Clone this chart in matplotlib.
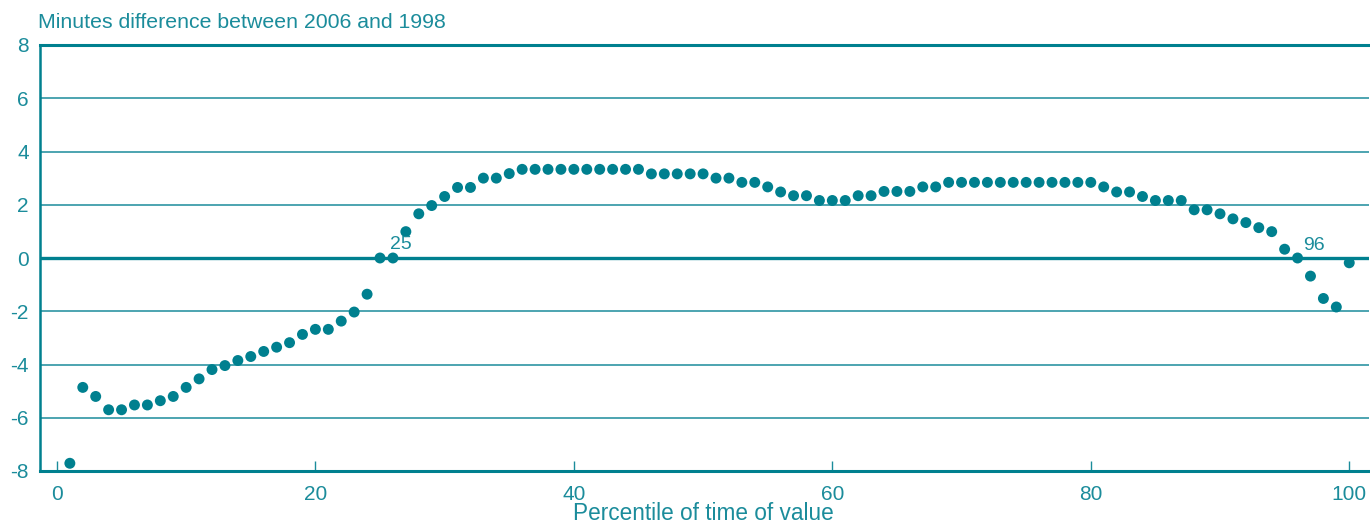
import matplotlib
matplotlib.use("Agg")
import matplotlib.pyplot as plt

plt.rcParams['font.family'] = ['Liberation Sans', 'DejaVu Sans']
plt.rcParams['axes.unicode_minus'] = False

# Percentile of time of value (1..100) and minutes difference 2006 vs 1998
percentiles = list(range(1, 101))
minutes_diff = [
    -7.71, -4.86, -5.20, -5.70, -5.70, -5.52, -5.52, -5.36, -5.20, -4.86,
    -4.54, -4.19, -4.04, -3.85, -3.70, -3.51, -3.35, -3.18, -2.87, -2.68,
    -2.68, -2.37, -2.03, -1.36, 0.00, 0.00, 0.99, 1.66, 1.97, 2.31,
    2.65, 2.65, 3.00, 3.00, 3.17, 3.33, 3.33, 3.33, 3.33, 3.33,
    3.33, 3.33, 3.33, 3.33, 3.33, 3.16, 3.16, 3.16, 3.16, 3.16,
    3.00, 3.00, 2.84, 2.84, 2.67, 2.48, 2.34, 2.34, 2.16, 2.16,
    2.16, 2.34, 2.34, 2.50, 2.50, 2.50, 2.67, 2.67, 2.84, 2.84,
    2.84, 2.84, 2.84, 2.84, 2.84, 2.84, 2.84, 2.84, 2.84, 2.84,
    2.67, 2.48, 2.48, 2.31, 2.16, 2.16, 2.16, 1.81, 1.81, 1.66,
    1.47, 1.33, 1.14, 0.99, 0.33, 0.00, -0.68, -1.52, -1.84, -0.18,
]
x_ticks = [0, 20, 40, 60, 80, 100]
y_ticks = [-8, -6, -4, -2, 0, 2, 4, 6, 8]
labelled_points = [25, 96]

TEAL = '#00808F'
TEXT = '#1B8C9B'

fig = plt.figure(figsize=(13.7, 5.25), dpi=100)
ax = fig.add_axes([40 / 1370, 54 / 525, 1 - 40 / 1370 - 0.001, (471 - 45) / 525])

ax.set_xlim(-1.31, 101.5)
ax.set_ylim(-8, 8)

# horizontal reference lines
for yv in y_ticks:
    if yv == -8:
        continue
    if yv == 0:
        ax.axhline(yv, color=TEAL, lw=2.4, zorder=2)
    elif yv == 8:
        ax.axhline(yv, color=TEAL, lw=2.2, zorder=2, clip_on=False)
    else:
        ax.axhline(yv, color=TEXT, lw=1.1, zorder=1)

ax.scatter(percentiles, minutes_diff, s=62, color=TEAL, edgecolors='none',
           zorder=3, clip_on=False)

# crossing-point labels
offsets = {25: (7.5, 9.5), 96: (4, 9.0)}
for p in labelled_points:
    v = minutes_diff[p - 1]
    ax.annotate(str(p), xy=(p, v), xytext=offsets[p], textcoords='offset points',
                ha='left', va='center', fontsize=14, color=TEXT)

for side in ('top', 'right'):
    ax.spines[side].set_visible(False)
ax.spines['left'].set_color(TEAL)
ax.spines['left'].set_linewidth(1.8)
ax.spines['bottom'].set_color(TEAL)
ax.spines['bottom'].set_linewidth(2.2)

ax.set_xticks(x_ticks)
ax.set_yticks(y_ticks)
ax.tick_params(axis='x', direction='in', length=7, width=1, color=TEXT,
               labelcolor=TEXT, labelsize=15, pad=10)
ax.tick_params(axis='y', length=0, labelcolor=TEXT, labelsize=15, pad=8)

fig.text((57 + 1350) / 2 / 1370, 1 - 513 / 525, 'Percentile of time of value',
         color=TEXT, fontsize=16.3, ha='center', va='center')
fig.text(38 / 1370, 1 - 22 / 525, 'Minutes difference between 2006 and 1998',
         color=TEXT, fontsize=15.3, ha='left', va='center')

fig.savefig('out.png', dpi=100)
